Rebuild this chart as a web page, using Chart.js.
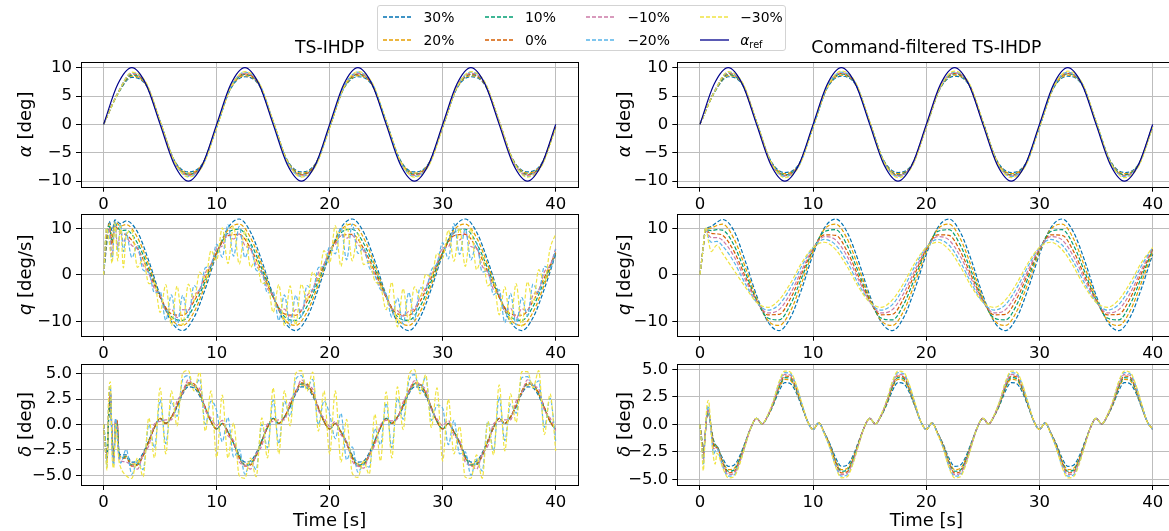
<!DOCTYPE html>
<html>
<head>
<meta charset="utf-8">
<script src="https://cdn.jsdelivr.net/npm/chart.js@4.4.0/dist/chart.umd.min.js"></script>
<style>
html, body { margin: 0; padding: 0; background: #fff; width: 1169px; height: 531px; overflow: hidden; position: relative; }
canvas { position: absolute; }
#legend { position: absolute; left: 377px; top: 5px; width: 409px; height: 46px; border: 1px solid #d3d3d3; border-radius: 3px; background: rgba(255,255,255,0.85); z-index: 5; font-family: "DejaVu Sans"; font-size: 13.9px; color: #000; box-sizing: border-box; }
#legend svg { position: absolute; }
#legend span { position: absolute; line-height: 16px; white-space: nowrap; }
#legend sub { font-size: 9.7px; vertical-align: -3px; line-height: 0; }
</style>
</head>
<body>
<canvas id="aL" width="590" height="182" style="left:0;top:30px"></canvas>
<canvas id="aR" width="600" height="182" style="left:590px;top:30px"></canvas>
<canvas id="qL" width="590" height="162" style="left:0;top:200px"></canvas>
<canvas id="qR" width="600" height="162" style="left:590px;top:200px"></canvas>
<canvas id="dL" width="590" height="181" style="left:0;top:350px"></canvas>
<canvas id="dR" width="600" height="181" style="left:590px;top:350px"></canvas>
<div id="legend"></div>
<script>
// ---- time axes ----
const tAlpha = [0,1.25,2.5,3.75,5,6.25,7.5,8.75,10,11.25,12.5,13.75,15,16.25,17.5,18.75,20,21.25,22.5,23.75,25,26.25,27.5,28.75,30,31.25,32.5,33.75,35,36.25,37.5,38.75,40];
const tQ = [0,0.25,0.5,0.75,1,1.5,2,3,4,5,6,7,8,9,10,11,12,13,14,15,16,17,18,19,20,21,22,23,24,25,26,27,28,29,30,31,32,33,34,35,36,37,38,39,40];
const tQN = [0,0.25,0.5,0.75,1,1.25,1.5,1.75,2,2.5,3,3.5,4,4.5,5,5.5,6,6.5,7,7.5,8,8.5,9,9.5,10,10.5,11,11.5,12,12.5,13,13.5,14,14.5,15,15.5,16,16.5,17,17.5,18,18.5,19,19.5,20,20.5,21,21.5,22,22.5,23,23.5,24,24.5,25,25.5,26,26.5,27,27.5,28,28.5,29,29.5,30,30.5,31,31.5,32,32.5,33,33.5,34,34.5,35,35.5,36,36.5,37,37.5,38,38.5,39,39.5,40];
const tD = [0,0.15,0.3,0.45,0.6,0.75,0.9,1.05,1.2,1.35,1.5,2,2.5,3,3.5,4,4.5,5,5.5,6,6.5,7,7.5,8,8.5,9,9.5,10,10.5,11,11.5,12,12.5,13,13.5,14,14.5,15,15.5,16,16.5,17,17.5,18,18.5,19,19.5,20,20.5,21,21.5,22,22.5,23,23.5,24,24.5,25,25.5,26,26.5,27,27.5,28,28.5,29,29.5,30,30.5,31,31.5,32,32.5,33,33.5,34,34.5,35,35.5,36,36.5,37,37.5,38,38.5,39,39.5,40];

// ---- alpha reference ----
const alphaRef = [0,7.07,10,7.07,0,-7.07,-10,-7.07,0,7.07,10,7.07,0,-7.07,-10,-7.07,0,7.07,10,7.07,0,-7.07,-10,-7.07,0,7.07,10,7.07,0,-7.07,-10,-7.07,0];

// ---- TS-IHDP: alpha ----
const aL30 = [0,5.3,8.3,6.9,0.5,-6.3,-8.4,-6.9,-0.5,6.3,8.4,6.9,0.5,-6.3,-8.4,-6.9,-0.5,6.3,8.4,6.9,0.5,-6.3,-8.4,-6.9,-0.5,6.3,8.4,6.9,0.5,-6.3,-8.4,-6.9,-0.5];
const aL20 = [0,5.4,8.5,7.0,0.5,-6.4,-8.6,-7.0,-0.5,6.4,8.6,7.0,0.5,-6.4,-8.6,-7.0,-0.5,6.4,8.6,7.0,0.5,-6.4,-8.6,-7.0,-0.5,6.4,8.6,7.0,0.5,-6.4,-8.6,-7.0,-0.5];
const aL10 = [0,5.4,8.7,7.1,0.4,-6.5,-8.8,-7.1,-0.4,6.5,8.8,7.1,0.4,-6.5,-8.8,-7.1,-0.4,6.5,8.8,7.1,0.4,-6.5,-8.8,-7.1,-0.4,6.5,8.8,7.1,0.4,-6.5,-8.8,-7.1,-0.4];
const aL0 = [0,5.5,8.9,7.1,0.4,-6.6,-8.9,-7.1,-0.4,6.6,8.9,7.1,0.4,-6.6,-8.9,-7.1,-0.4,6.6,8.9,7.1,0.4,-6.6,-8.9,-7.1,-0.4,6.6,8.9,7.1,0.4,-6.6,-8.9,-7.1,-0.4];
const aLm10 = [0,5.5,9.0,7.2,0.4,-6.6,-9.0,-7.2,-0.4,6.6,9.0,7.2,0.4,-6.6,-9.0,-7.2,-0.4,6.6,9.0,7.2,0.4,-6.6,-9.0,-7.2,-0.4,6.6,9.0,7.2,0.4,-6.6,-9.0,-7.2,-0.4];
const aLm20 = [0,5.5,9.1,7.3,0.5,-6.6,-9.2,-7.3,-0.5,6.6,9.2,7.3,0.5,-6.6,-9.2,-7.3,-0.5,6.6,9.2,7.3,0.5,-6.6,-9.2,-7.3,-0.5,6.6,9.2,7.3,0.5,-6.6,-9.2,-7.3,-0.5];
const aLm30 = [0,5.4,9.2,7.4,0.6,-6.5,-9.3,-7.4,-0.6,6.5,9.3,7.4,0.6,-6.5,-9.3,-7.4,-0.6,6.5,9.3,7.4,0.6,-6.5,-9.3,-7.4,-0.6,6.5,9.3,7.4,0.6,-6.5,-9.3,-7.4,-0.6];

// ---- Command-filtered: alpha ----
const aR30 = [0,5.5,8.4,7.0,0.4,-6.4,-8.5,-7.0,-0.4,6.4,8.5,7.0,0.4,-6.4,-8.5,-7.0,-0.4,6.4,8.5,7.0,0.4,-6.4,-8.5,-7.0,-0.4,6.4,8.5,7.0,0.4,-6.4,-8.5,-7.0,-0.4];
const aR20 = [0,5.6,8.6,7.1,0.4,-6.5,-8.7,-7.1,-0.4,6.5,8.7,7.1,0.4,-6.5,-8.7,-7.1,-0.4,6.5,8.7,7.1,0.4,-6.5,-8.7,-7.1,-0.4,6.5,8.7,7.1,0.4,-6.5,-8.7,-7.1,-0.4];
const aR10 = [0,5.6,8.8,7.1,0.4,-6.6,-8.9,-7.1,-0.4,6.6,8.9,7.1,0.4,-6.6,-8.9,-7.1,-0.4,6.6,8.9,7.1,0.4,-6.6,-8.9,-7.1,-0.4,6.6,8.9,7.1,0.4,-6.6,-8.9,-7.1,-0.4];
const aR0 = [0,5.7,9.0,7.2,0.3,-6.7,-9.0,-7.2,-0.3,6.7,9.0,7.2,0.3,-6.7,-9.0,-7.2,-0.3,6.7,9.0,7.2,0.3,-6.7,-9.0,-7.2,-0.3,6.7,9.0,7.2,0.3,-6.7,-9.0,-7.2,-0.3];
const aRm10 = [0,5.7,9.1,7.2,0.3,-6.7,-9.1,-7.2,-0.3,6.7,9.1,7.2,0.3,-6.7,-9.1,-7.2,-0.3,6.7,9.1,7.2,0.3,-6.7,-9.1,-7.2,-0.3,6.7,9.1,7.2,0.3,-6.7,-9.1,-7.2,-0.3];
const aRm20 = [0,5.7,9.2,7.3,0.4,-6.7,-9.2,-7.3,-0.4,6.7,9.2,7.3,0.4,-6.7,-9.2,-7.3,-0.4,6.7,9.2,7.3,0.4,-6.7,-9.2,-7.3,-0.4,6.7,9.2,7.3,0.4,-6.7,-9.2,-7.3,-0.4];
const aRm30 = [0,5.6,9.3,7.4,0.5,-6.6,-9.4,-7.4,-0.5,6.6,9.4,7.4,0.5,-6.6,-9.4,-7.4,-0.5,6.6,9.4,7.4,0.5,-6.6,-9.4,-7.4,-0.5,6.6,9.4,7.4,0.5,-6.6,-9.4,-7.4,-0.5];

// ---- TS-IHDP: q (first four on tQ, last three on tQN) ----
const qL30 = [0,6.0,11.5,9.5,11.8,11.0,11.6,9.2,3.0,-4.4,-10.1,-12.0,-9.2,-3.0,4.4,10.1,12.0,9.2,3.0,-4.4,-10.1,-12.0,-9.2,-3.0,4.4,10.1,12.0,9.2,3.0,-4.4,-10.1,-12.0,-9.2,-3.0,4.4,10.1,12.0,9.2,3.0,-4.4,-10.1,-12.0,-9.2,-3.0,4.4];
const qL20 = [0,7.0,11.0,8.0,11.4,10.5,10.8,8.0,2.1,-4.7,-9.6,-10.9,-8.0,-2.1,4.7,9.6,10.9,8.0,2.1,-4.7,-9.6,-10.9,-8.0,-2.1,4.7,9.6,10.9,8.0,2.1,-4.7,-9.6,-10.9,-8.0,-2.1,4.7,9.6,10.9,8.0,2.1,-4.7,-9.6,-10.9,-8.0,-2.1,4.7];
const qL10 = [0,8.0,10.5,7.0,11.0,9.5,9.6,6.8,1.3,-4.8,-9.0,-9.8,-6.8,-1.3,4.8,9.0,9.8,6.8,1.3,-4.8,-9.0,-9.8,-6.8,-1.3,4.8,9.0,9.8,6.8,1.3,-4.8,-9.0,-9.8,-6.8,-1.3,4.8,9.0,9.8,6.8,1.3,-4.8,-9.0,-9.8,-6.8,-1.3,4.8];
const qL0 = [0,9.0,10.0,6.5,10.5,9.0,8.6,5.7,0.6,-4.8,-8.4,-8.7,-5.7,-0.6,4.8,8.4,8.7,5.7,0.6,-4.8,-8.4,-8.7,-5.7,-0.6,4.8,8.4,8.7,5.7,0.6,-4.8,-8.4,-8.7,-5.7,-0.6,4.8,8.4,8.7,5.7,0.6,-4.8,-8.4,-8.7,-5.7,-0.6,4.8];
const qLm10 = [0,9,10,4,11,6,9.5,7,8.0,
  6.3,5.5,2.1,0.3,-3.0,-4.4,-7.6,-7.4,-9.2,-7.5,-7.6,-4.5,-3.1,0.4,2.2,
  5.6,6.2,8.9,7.7,8.8,6.3,5.5,2.1,0.3,-3.0,-4.4,-7.6,-7.4,-9.2,-7.5,-7.6,-4.5,-3.1,0.4,2.2,
  5.4,6.5,8.6,7.9,8.5,6.6,5.2,2.4,0.0,-2.7,-4.7,-7.3,-7.7,-8.9,-7.8,-7.3,-4.8,-2.8,0.1,2.5,
  5.8,6.0,9.1,7.5,9.0,6.1,5.7,1.9,0.5,-3.2,-4.2,-7.8,-7.2,-9.4,-7.3,-7.8,-4.3,-3.3,0.6,2.0,
  5.6];
const qLm20 = [0,10,8,3,11.5,5,11,5,9,
  3.7,6.3,1.0,0.5,-3.9,-3.6,-9.8,-4.3,-11.0,-4.4,-9.2,-2.3,-3.5,1.5,1.9,
  6.6,3.8,10.8,4.0,10.4,3.7,6.3,1.0,0.5,-3.9,-3.6,-9.8,-4.3,-11.0,-4.4,-9.2,-2.3,-3.5,1.5,1.9,
  6.0,4.5,10.2,3.2,10.9,4.6,5.8,1.6,-0.2,-3.2,-4.1,-9.1,-5.0,-10.6,-3.8,-9.7,-2.8,-2.9,1.0,2.5,
  6.9,3.4,11.0,4.4,9.9,3.2,6.8,0.6,0.9,-4.3,-3.2,-10.3,-4.0,-10.8,-4.9,-8.8,-2.0,-3.9,1.8,1.4,
  5.5];
const qLm30 = [0,10,7,2.5,11,3,10.5,1.5,8.5,
  9.5,1.6,3.4,-1.9,-1.7,-8.1,-2.1,-10.9,-2.4,-10.8,-2.0,-5.6,0.6,-1.1,5.2,
  3.1,10.1,2.4,10.4,2.3,9.5,1.6,3.4,-1.9,-1.7,-8.1,-2.1,-10.9,-2.4,-10.8,-2.0,-5.6,0.6,-1.1,5.2,
  2.5,10.6,1.8,11.0,3.0,8.8,2.2,2.8,-1.3,-2.4,-7.5,-1.6,-11.2,-3.0,-10.2,-2.6,-5.0,0.1,-0.5,4.6,
  3.6,9.6,2.9,10.0,1.8,10.0,1.1,3.9,-2.4,-1.2,-8.6,-2.6,-10.5,-1.9,-11.1,-1.5,-6.1,1.1,-1.6,5.6,
  8.8];

// ---- Command-filtered: q (on tQ) ----
const qR30 = [0,5.0,9.6,10.2,10.4,11.3,11.9,9.5,3.0,-4.4,-10.1,-12.0,-9.2,-3.0,4.4,10.1,12.0,9.2,3.0,-4.4,-10.1,-12.0,-9.2,-3.0,4.4,10.1,12.0,9.2,3.0,-4.4,-10.1,-12.0,-9.2,-3.0,4.4,10.1,12.0,9.2,3.0,-4.4,-10.1,-12.0,-9.2,-3.0,4.4];
const qR20 = [0,5.0,9.7,10.0,10.1,10.6,10.9,7.8,1.7,-5.0,-9.8,-10.9,-7.8,-1.7,5.0,9.8,10.9,7.8,1.7,-5.0,-9.8,-10.9,-7.8,-1.7,5.0,9.8,10.9,7.8,1.7,-5.0,-9.8,-10.9,-7.8,-1.7,5.0,9.8,10.9,7.8,1.7,-5.0,-9.8,-10.9,-7.8,-1.7,5.0];
const qR10 = [0,5.0,9.8,9.6,9.5,9.7,9.6,6.4,0.6,-5.4,-9.3,-9.7,-6.4,-0.6,5.4,9.3,9.7,6.4,0.6,-5.4,-9.3,-9.7,-6.4,-0.6,5.4,9.3,9.7,6.4,0.6,-5.4,-9.3,-9.7,-6.4,-0.6,5.4,9.3,9.7,6.4,0.6,-5.4,-9.3,-9.7,-6.4,-0.6,5.4];
const qR0 = [0,5.0,9.9,9.2,8.9,8.8,8.5,5.1,-0.3,-5.5,-8.6,-8.5,-5.1,0.3,5.5,8.6,8.5,5.1,-0.3,-5.5,-8.6,-8.5,-5.1,0.3,5.5,8.6,8.5,5.1,-0.3,-5.5,-8.6,-8.5,-5.1,0.3,5.5,8.6,8.5,5.1,-0.3,-5.5,-8.6,-8.5,-5.1,0.3,5.5];
const qRm10 = [0,5.0,10.0,8.6,8.0,8.0,7.4,4.0,-1.0,-5.7,-8.2,-7.5,-4.0,1.0,5.7,8.2,7.5,4.0,-1.0,-5.7,-8.2,-7.5,-4.0,1.0,5.7,8.2,7.5,4.0,-1.0,-5.7,-8.2,-7.5,-4.0,1.0,5.7,8.2,7.5,4.0,-1.0,-5.7,-8.2,-7.5,-4.0,1.0,5.7];
const qRm20 = [0,5.0,10.1,8.0,7.0,7.2,6.2,2.8,-1.9,-5.9,-7.6,-6.4,-2.8,1.9,5.9,7.6,6.4,2.8,-1.9,-5.9,-7.6,-6.4,-2.8,1.9,5.9,7.6,6.4,2.8,-1.9,-5.9,-7.6,-6.4,-2.8,1.9,5.9,7.6,6.4,2.8,-1.9,-5.9,-7.6,-6.4,-2.8,1.9,5.9];
const qRm30 = [0,5.0,10.2,7.2,5.0,6.4,4.6,1.0,-2.6,-5.9,-7.0,-5.4,-1.8,2.6,5.9,7.0,5.4,1.8,-2.6,-5.9,-7.0,-5.4,-1.8,2.6,5.9,7.0,5.4,1.8,-2.6,-5.9,-7.0,-5.4,-1.8,2.6,5.9,7.0,5.4,1.8,-2.6,-5.9,-7.0,-5.4,-1.8,2.6,5.9];

// ---- TS-IHDP: delta (on tD) ----
const dL30 = [0,-2.5,-3.5,0.5,2.8,-1.0,-3.0,0.0,0.2,-2.5,-3.0,
  -3.0,-3.7,-3.6,-2.8,-1.55,-0.3,0.6,0.1,0.7,1.7,3.0,3.7,3.6,2.8,1.55,0.3,
  -0.45,0.1,-0.7,-1.7,-3.0,-3.7,-3.6,-2.8,-1.55,-0.3,0.6,0.1,0.7,1.7,3.0,3.7,3.6,2.8,1.55,0.3,
  -0.45,0.1,-0.7,-1.7,-3.0,-3.7,-3.6,-2.8,-1.55,-0.3,0.6,0.1,0.7,1.7,3.0,3.7,3.6,2.8,1.55,0.3,
  -0.45,0.1,-0.7,-1.7,-3.0,-3.7,-3.6,-2.8,-1.55,-0.3,0.6,0.1,0.7,1.7,3.0,3.7,3.6,2.8,1.55,0.3,
  -0.5];
const dL20 = [0,-2.0,-3.8,1.0,3.0,-1.5,-3.2,-0.5,0.3,-2.8,-3.2,
  -3.15,-3.9,-3.8,-2.95,-1.6,-0.3,0.6,0.1,0.72,1.8,3.15,3.9,3.8,2.95,1.6,0.3,
  -0.45,0.1,-0.72,-1.8,-3.15,-3.9,-3.8,-2.95,-1.6,-0.3,0.6,0.1,0.72,1.8,3.15,3.9,3.8,2.95,1.6,0.3,
  -0.45,0.1,-0.72,-1.8,-3.15,-3.9,-3.8,-2.95,-1.6,-0.3,0.6,0.1,0.72,1.8,3.15,3.9,3.8,2.95,1.6,0.3,
  -0.45,0.1,-0.72,-1.8,-3.15,-3.9,-3.8,-2.95,-1.6,-0.3,0.6,0.1,0.72,1.8,3.15,3.9,3.8,2.95,1.6,0.3,
  -0.5];
const dL10 = [0,-1.5,-3.2,0.8,2.5,-2.0,-3.4,0.3,0.0,-3.0,-3.3,
  -3.2,-4.0,-3.9,-3.05,-1.65,-0.3,0.6,0.1,0.74,1.85,3.2,4.0,3.9,3.05,1.65,0.3,
  -0.45,0.1,-0.74,-1.85,-3.2,-4.0,-3.9,-3.05,-1.65,-0.3,0.6,0.1,0.74,1.85,3.2,4.0,3.9,3.05,1.65,0.3,
  -0.45,0.1,-0.74,-1.85,-3.2,-4.0,-3.9,-3.05,-1.65,-0.3,0.6,0.1,0.74,1.85,3.2,4.0,3.9,3.05,1.65,0.3,
  -0.45,0.1,-0.74,-1.85,-3.2,-4.0,-3.9,-3.05,-1.65,-0.3,0.6,0.1,0.74,1.85,3.2,4.0,3.9,3.05,1.65,0.3,
  -0.5];
const dL0 = [0,-1.8,-3.0,1.5,3.2,-1.2,-3.6,0.2,0.4,-3.2,-3.4,
  -3.3,-4.1,-4.0,-3.1,-1.7,-0.3,0.6,0.1,0.76,1.9,3.3,4.1,4.0,3.1,1.7,0.3,
  -0.45,0.1,-0.76,-1.9,-3.3,-4.1,-4.0,-3.1,-1.7,-0.3,0.6,0.1,0.76,1.9,3.3,4.1,4.0,3.1,1.7,0.3,
  -0.45,0.1,-0.76,-1.9,-3.3,-4.1,-4.0,-3.1,-1.7,-0.3,0.6,0.1,0.76,1.9,3.3,4.1,4.0,3.1,1.7,0.3,
  -0.45,0.1,-0.76,-1.9,-3.3,-4.1,-4.0,-3.1,-1.7,-0.3,0.6,0.1,0.76,1.9,3.3,4.1,4.0,3.1,1.7,0.3,
  -0.5];
const dLm10 = [0,-2.2,-3.6,2.0,3.5,-1.8,-3.8,0.5,-0.2,-3.3,-3.6,
  -3.7,-4.0,-4.4,-2.9,-2.1,0.05,0.3,0.45,0.45,2.3,3.1,4.4,3.8,3.5,1.4,0.65,
  -0.1,0.4,-1.1,-1.6,-3.7,-4.0,-4.4,-2.9,-2.1,0.05,0.3,0.45,0.45,2.3,3.1,4.4,3.8,3.5,1.4,0.65,
  -0.2,0.3,-1.0,-1.7,-3.6,-4.1,-4.3,-3.0,-2.0,-0.05,0.4,0.35,0.55,2.2,3.2,4.3,3.9,3.4,1.5,0.55,
  -0.1,0.4,-1.1,-1.6,-3.7,-4.0,-4.4,-2.9,-2.1,0.05,0.3,0.45,0.45,2.3,3.1,4.4,3.8,3.5,1.4,0.65,
  -0.6];
const dLm20 = [0,-1.5,-4.2,2.5,3.8,-2.5,-4.0,0.6,-1.0,-3.0,-3.8,
  -2.45,-4.9,-3.6,-4.45,0.0,-2.3,2.4,-1.9,2.3,0.8,4.45,4.8,3.6,4.45,0.0,2.3,
  1.35,-1.7,0.7,-3.2,-2.45,-4.9,-3.6,-4.45,0.0,-2.3,2.4,-1.9,2.3,0.8,4.45,4.8,3.6,4.45,0.0,2.3,
  1.0,-1.4,1.1,-3.5,-2.2,-4.7,-3.9,-4.2,-0.4,-2.0,2.1,-2.3,2.6,0.5,4.2,4.9,3.3,4.7,0.4,1.9,
  1.6,-2.0,0.4,-2.9,-2.7,-5.0,-3.4,-4.6,0.3,-2.6,2.7,-1.6,2.0,1.1,4.6,4.7,3.8,4.3,-0.3,2.6,
  -1.6];
const dLm30 = [0,-2.5,-4.5,3.0,4.2,-3.0,-4.3,0.0,-1.5,-3.5,-4.2,
  -5.05,-5.3,-3.3,-5.15,0.65,-3.3,3.6,-2.9,3.3,-0.15,5.05,5.3,3.3,5.15,-0.65,3.3,
  -3.25,2.9,-3.3,0.15,-5.05,-5.3,-3.3,-5.15,0.65,-3.3,3.6,-2.9,3.3,-0.15,5.05,5.3,3.3,5.15,-0.65,3.3,
  -2.9,3.3,-3.7,0.5,-4.8,-5.2,-3.6,-4.9,1.0,-3.6,3.2,-3.3,3.7,-0.5,4.8,5.4,3.0,4.9,-0.3,3.6,
  -3.6,2.5,-2.9,-0.2,-5.2,-5.3,-3.0,-5.3,0.3,-3.0,3.9,-2.6,3.0,0.2,5.2,5.2,3.6,5.3,-1.0,3.0,
  -2.6];

// ---- Command-filtered: delta (on tD) ----
const dR30 = [0,-1.2,-2.4,-1.0,0.6,1.0,0.4,-0.6,-1.4,-1.8,-2.0,
  -3.05,-3.8,-3.7,-2.9,-1.6,-0.3,0.55,0.05,0.75,1.8,3.05,3.8,3.7,2.9,1.6,0.3,
  -0.45,0.15,-0.75,-1.8,-3.05,-3.8,-3.7,-2.9,-1.6,-0.3,0.55,0.05,0.75,1.8,3.05,3.8,3.7,2.9,1.6,0.3,
  -0.45,0.15,-0.75,-1.8,-3.05,-3.8,-3.7,-2.9,-1.6,-0.3,0.55,0.05,0.75,1.8,3.05,3.8,3.7,2.9,1.6,0.3,
  -0.45,0.15,-0.75,-1.8,-3.05,-3.8,-3.7,-2.9,-1.6,-0.3,0.55,0.05,0.75,1.8,3.05,3.8,3.7,2.9,1.6,0.3,
  -0.45];
const dR20 = [0,-1.3,-2.6,-1.0,0.7,1.1,0.4,-0.7,-1.6,-1.9,-2.0,
  -3.3,-4.1,-4.0,-3.1,-1.7,-0.3,0.55,0.05,0.78,1.9,3.3,4.1,4.0,3.1,1.7,0.3,
  -0.45,0.15,-0.78,-1.9,-3.3,-4.1,-4.0,-3.1,-1.7,-0.3,0.55,0.05,0.78,1.9,3.3,4.1,4.0,3.1,1.7,0.3,
  -0.45,0.15,-0.78,-1.9,-3.3,-4.1,-4.0,-3.1,-1.7,-0.3,0.55,0.05,0.78,1.9,3.3,4.1,4.0,3.1,1.7,0.3,
  -0.45,0.15,-0.78,-1.9,-3.3,-4.1,-4.0,-3.1,-1.7,-0.3,0.55,0.05,0.78,1.9,3.3,4.1,4.0,3.1,1.7,0.3,
  -0.45];
const dR10 = [0,-1.4,-2.8,-1.1,0.7,1.2,0.4,-0.8,-1.7,-2.0,-2.0,
  -3.4,-4.25,-4.15,-3.2,-1.75,-0.3,0.55,0.05,0.8,1.95,3.4,4.25,4.15,3.2,1.75,0.3,
  -0.45,0.15,-0.8,-1.95,-3.4,-4.25,-4.15,-3.2,-1.75,-0.3,0.55,0.05,0.8,1.95,3.4,4.25,4.15,3.2,1.75,0.3,
  -0.45,0.15,-0.8,-1.95,-3.4,-4.25,-4.15,-3.2,-1.75,-0.3,0.55,0.05,0.8,1.95,3.4,4.25,4.15,3.2,1.75,0.3,
  -0.45,0.15,-0.8,-1.95,-3.4,-4.25,-4.15,-3.2,-1.75,-0.3,0.55,0.05,0.8,1.95,3.4,4.25,4.15,3.2,1.75,0.3,
  -0.45];
const dR0 = [0,-1.5,-3.0,-1.2,0.8,1.3,0.3,-0.9,-1.9,-2.1,-2.1,
  -3.5,-4.4,-4.3,-3.3,-1.8,-0.3,0.55,0.05,0.8,2.0,3.5,4.4,4.3,3.3,1.8,0.3,
  -0.45,0.15,-0.8,-2.0,-3.5,-4.4,-4.3,-3.3,-1.8,-0.3,0.55,0.05,0.8,2.0,3.5,4.4,4.3,3.3,1.8,0.3,
  -0.45,0.15,-0.8,-2.0,-3.5,-4.4,-4.3,-3.3,-1.8,-0.3,0.55,0.05,0.8,2.0,3.5,4.4,4.3,3.3,1.8,0.3,
  -0.45,0.15,-0.8,-2.0,-3.5,-4.4,-4.3,-3.3,-1.8,-0.3,0.55,0.05,0.8,2.0,3.5,4.4,4.3,3.3,1.8,0.3,
  -0.45];
const dRm10 = [0,-1.6,-3.3,-1.2,0.9,1.4,0.3,-1.1,-2.2,-2.2,-2.2,
  -3.65,-4.55,-4.45,-3.45,-1.85,-0.3,0.55,0.05,0.82,2.1,3.65,4.55,4.45,3.45,1.85,0.3,
  -0.45,0.15,-0.82,-2.1,-3.65,-4.55,-4.45,-3.45,-1.85,-0.3,0.55,0.05,0.82,2.1,3.65,4.55,4.45,3.45,1.85,0.3,
  -0.45,0.15,-0.82,-2.1,-3.65,-4.55,-4.45,-3.45,-1.85,-0.3,0.55,0.05,0.82,2.1,3.65,4.55,4.45,3.45,1.85,0.3,
  -0.45,0.15,-0.82,-2.1,-3.65,-4.55,-4.45,-3.45,-1.85,-0.3,0.55,0.05,0.82,2.1,3.65,4.55,4.45,3.45,1.85,0.3,
  -0.45];
const dRm20 = [0,-1.8,-3.7,-1.3,1.0,1.7,0.2,-1.4,-2.7,-2.4,-2.2,
  -3.8,-4.7,-4.6,-3.55,-1.9,-0.3,0.55,0.05,0.85,2.15,3.8,4.7,4.6,3.55,1.9,0.3,
  -0.45,0.15,-0.85,-2.15,-3.8,-4.7,-4.6,-3.55,-1.9,-0.3,0.55,0.05,0.85,2.15,3.8,4.7,4.6,3.55,1.9,0.3,
  -0.45,0.15,-0.85,-2.15,-3.8,-4.7,-4.6,-3.55,-1.9,-0.3,0.55,0.05,0.85,2.15,3.8,4.7,4.6,3.55,1.9,0.3,
  -0.45,0.15,-0.85,-2.15,-3.8,-4.7,-4.6,-3.55,-1.9,-0.3,0.55,0.05,0.85,2.15,3.8,4.7,4.6,3.55,1.9,0.3,
  -0.45];
const dRm30 = [0,-2.0,-4.2,-1.2,1.5,2.2,0.8,-1.5,-3.0,-3.6,-2.6,
  -3.9,-4.85,-4.75,-3.65,-1.95,-0.3,0.55,0.05,0.88,2.2,3.9,4.85,4.75,3.65,1.95,0.3,
  -0.45,0.15,-0.88,-2.2,-3.9,-4.85,-4.75,-3.65,-1.95,-0.3,0.55,0.05,0.88,2.2,3.9,4.85,4.75,3.65,1.95,0.3,
  -0.45,0.15,-0.88,-2.2,-3.9,-4.85,-4.75,-3.65,-1.95,-0.3,0.55,0.05,0.88,2.2,3.9,4.85,4.75,3.65,1.95,0.3,
  -0.45,0.15,-0.88,-2.2,-3.9,-4.85,-4.75,-3.65,-1.95,-0.3,0.55,0.05,0.88,2.2,3.9,4.85,4.75,3.65,1.95,0.3,
  -0.45];

// ---- labels / ticks ----
const seriesLabels = ['30%', '20%', '10%', '0%', '\u221210%', '\u221220%', '\u221230%'];
const seriesColors = ['#0072B2', '#E69F00', '#009E73', '#D55E00', '#CC79A7', '#56B4E9', '#F0E442'];
const refColor = '#00008B';
const xTicks = [0, 10, 20, 30, 40];
const alphaTicks = [-10, -5, 0, 5, 10];
const qTicks = [-10, 0, 10];
const deltaTicks = [-5, -2.5, 0, 2.5, 5];

const FONT = '"DejaVu Sans"';
const TICK_SIZE = 16.5;
const LABEL_SIZE = 18;

function fmt(v, dec) {
  const s = Math.abs(v).toFixed(dec);
  return v < 0 ? '\u2212' + s : s;
}

// frame, titles and axis labels
const deco = {
  id: 'deco',
  afterDraw(chart, args, o) {
    const ctx = chart.ctx, a = chart.chartArea;
    ctx.save();
    ctx.strokeStyle = '#000';
    ctx.lineWidth = 1;
    ctx.strokeRect(Math.round(a.left) + 0.5, Math.round(a.top) + 0.5, Math.round(a.right - a.left), Math.round(a.bottom - a.top));
    ctx.fillStyle = '#000';
    if (o.title) {
      ctx.font = '17.2px ' + FONT;
      ctx.textAlign = 'center';
      ctx.textBaseline = 'alphabetic';
      ctx.fillText(o.title, (a.left + a.right) / 2, a.top - 9);
    }
    if (o.xlabel) {
      ctx.font = LABEL_SIZE + 'px ' + FONT;
      ctx.textAlign = 'center';
      ctx.textBaseline = 'middle';
      ctx.fillText(o.xlabel, (a.left + a.right) / 2, a.bottom + 36);
    }
    const ital = 'italic ' + LABEL_SIZE + 'px ' + FONT, norm = LABEL_SIZE + 'px ' + FONT;
    ctx.font = ital;
    const w1 = ctx.measureText(o.ysym).width;
    ctx.font = norm;
    const w2 = ctx.measureText(o.yunit).width;
    ctx.translate(o.ylx, (a.top + a.bottom) / 2);
    ctx.rotate(-Math.PI / 2);
    ctx.textAlign = 'left';
    ctx.textBaseline = 'middle';
    const x0 = -(w1 + w2) / 2;
    ctx.font = ital;
    ctx.fillText(o.ysym, x0, 0);
    ctx.font = norm;
    ctx.fillText(o.yunit, x0 + w1, 0);
    ctx.restore();
  }
};

const cols = {
  L: { yW: 81, padRight: 11.7, ylx: 26 },
  R: { yW: 87.3, padRight: 14.7, ylx: 35 }
};
const rows = {
  1: { padTop: 32, xH: 25.3 },
  2: { padTop: 11.7, xH: 26.3 },
  3: { padTop: 10.7, xH: 46 }
};

function makePanel(id, col, row, series, ref, y) {
  const c = cols[col], r = rows[row];
  const datasets = [];
  if (ref) {
    datasets.push({
      label: 'ref', data: ref[0].map((x, i) => ({ x: x, y: ref[1][i] })),
      borderColor: refColor, borderWidth: 1.2, borderDash: []
    });
  }
  for (let k = series.length - 1; k >= 0; k--) {
    const [t, v] = series[k];
    datasets.push({
      label: seriesLabels[k], data: t.map((x, i) => ({ x: x, y: v[i] })),
      borderColor: seriesColors[k], borderWidth: 1.2, borderDash: [4, 2]
    });
  }
  const gridOpts = { color: '#bdbdbd', lineWidth: 1, tickColor: '#000', tickLength: 5, tickWidth: 1 };
  const tickFont = { family: 'DejaVu Sans', size: TICK_SIZE };
  new Chart(document.getElementById(id), {
    type: 'line',
    data: { datasets: datasets },
    options: {
      responsive: false,
      animation: false,
      devicePixelRatio: 1,
      layout: { padding: { top: r.padTop, right: c.padRight, left: 0, bottom: 0 } },
      elements: { point: { radius: 0 }, line: { cubicInterpolationMode: 'monotone', fill: false } },
      plugins: {
        legend: { display: false },
        tooltip: { enabled: false },
        deco: { title: y.title, xlabel: y.xlabel, ysym: y.sym, yunit: y.unit, ylx: c.ylx }
      },
      scales: {
        x: {
          type: 'linear', min: -2, max: 42,
          afterBuildTicks: s => { s.ticks = xTicks.map(v => ({ value: v })); },
          afterFit: s => { s.height = r.xH; },
          grid: gridOpts,
          border: { display: false },
          ticks: { font: tickFont, color: '#000', padding: 3, maxRotation: 0, callback: v => String(v) }
        },
        y: {
          type: 'linear', min: y.min, max: y.max,
          afterBuildTicks: s => { s.ticks = y.ticks.map(v => ({ value: v })); },
          afterFit: s => { s.width = c.yW; },
          grid: gridOpts,
          border: { display: false },
          ticks: { font: tickFont, color: '#000', padding: 4, callback: v => fmt(v, y.dec) }
        }
      }
    },
    plugins: [deco]
  });
}

makePanel('aL', 'L', 1,
  [[tAlpha, aL30], [tAlpha, aL20], [tAlpha, aL10], [tAlpha, aL0], [tAlpha, aLm10], [tAlpha, aLm20], [tAlpha, aLm30]],
  [tAlpha, alphaRef],
  { min: -11, max: 11, ticks: alphaTicks, dec: 0, sym: '\u03b1', unit: ' [deg]', title: 'TS-IHDP' });
makePanel('aR', 'R', 1,
  [[tAlpha, aR30], [tAlpha, aR20], [tAlpha, aR10], [tAlpha, aR0], [tAlpha, aRm10], [tAlpha, aRm20], [tAlpha, aRm30]],
  [tAlpha, alphaRef],
  { min: -11, max: 11, ticks: alphaTicks, dec: 0, sym: '\u03b1', unit: ' [deg]', title: 'Command-filtered TS-IHDP' });
makePanel('qL', 'L', 2,
  [[tQ, qL30], [tQ, qL20], [tQ, qL10], [tQ, qL0], [tQN, qLm10], [tQN, qLm20], [tQN, qLm30]],
  null,
  { min: -13.1, max: 13.1, ticks: qTicks, dec: 0, sym: 'q', unit: ' [deg/s]' });
makePanel('qR', 'R', 2,
  [[tQ, qR30], [tQ, qR20], [tQ, qR10], [tQ, qR0], [tQ, qRm10], [tQ, qRm20], [tQ, qRm30]],
  null,
  { min: -13.1, max: 13.1, ticks: qTicks, dec: 0, sym: 'q', unit: ' [deg/s]' });
makePanel('dL', 'L', 3,
  [[tD, dL30], [tD, dL20], [tD, dL10], [tD, dL0], [tD, dLm10], [tD, dLm20], [tD, dLm30]],
  null,
  { min: -5.96, max: 5.96, ticks: deltaTicks, dec: 1, sym: '\u03b4', unit: ' [deg]', xlabel: 'Time [s]' });
makePanel('dR', 'R', 3,
  [[tD, dR30], [tD, dR20], [tD, dR10], [tD, dR0], [tD, dRm10], [tD, dRm20], [tD, dRm30]],
  null,
  { min: -5.5, max: 5.5, ticks: deltaTicks, dec: 1, sym: '\u03b4', unit: ' [deg]', xlabel: 'Time [s]' });

// figure legend (html)
const legendSlots = [
  { k: 0, lx: 5, tx: 45.5, row: 0 }, { k: 1, lx: 5, tx: 45.5, row: 1 },
  { k: 2, lx: 106.5, tx: 147, row: 0 }, { k: 3, lx: 106.5, tx: 147, row: 1 },
  { k: 4, lx: 208, tx: 249.4, row: 0 }, { k: 5, lx: 208, tx: 249.4, row: 1 },
  { k: 6, lx: 321.6, tx: 362.2, row: 0 }, { k: 7, lx: 321.6, tx: 362.2, row: 1 }
];
const rowY = [11, 33.6];
const leg = document.getElementById('legend');
legendSlots.forEach(s => {
  const isRef = s.k === 7;
  const color = isRef ? refColor : seriesColors[s.k];
  const dash = isRef ? '' : ' stroke-dasharray="4 2"';
  const svg = document.createElementNS('http://www.w3.org/2000/svg', 'svg');
  svg.setAttribute('width', '29');
  svg.setAttribute('height', '4');
  svg.style.left = s.lx + 'px';
  svg.style.top = (rowY[s.row] - 2) + 'px';
  svg.innerHTML = '<line x1="0" y1="2" x2="29" y2="2" stroke="' + color + '" stroke-width="1.3"' + dash + '/>';
  leg.appendChild(svg);
  const sp = document.createElement('span');
  sp.style.left = s.tx + 'px';
  sp.style.top = (rowY[s.row] - 8) + 'px';
  if (isRef) sp.innerHTML = '<i>\u03b1</i><sub>ref</sub>';
  else sp.textContent = seriesLabels[s.k];
  leg.appendChild(sp);
});
</script>
</body>
</html>
